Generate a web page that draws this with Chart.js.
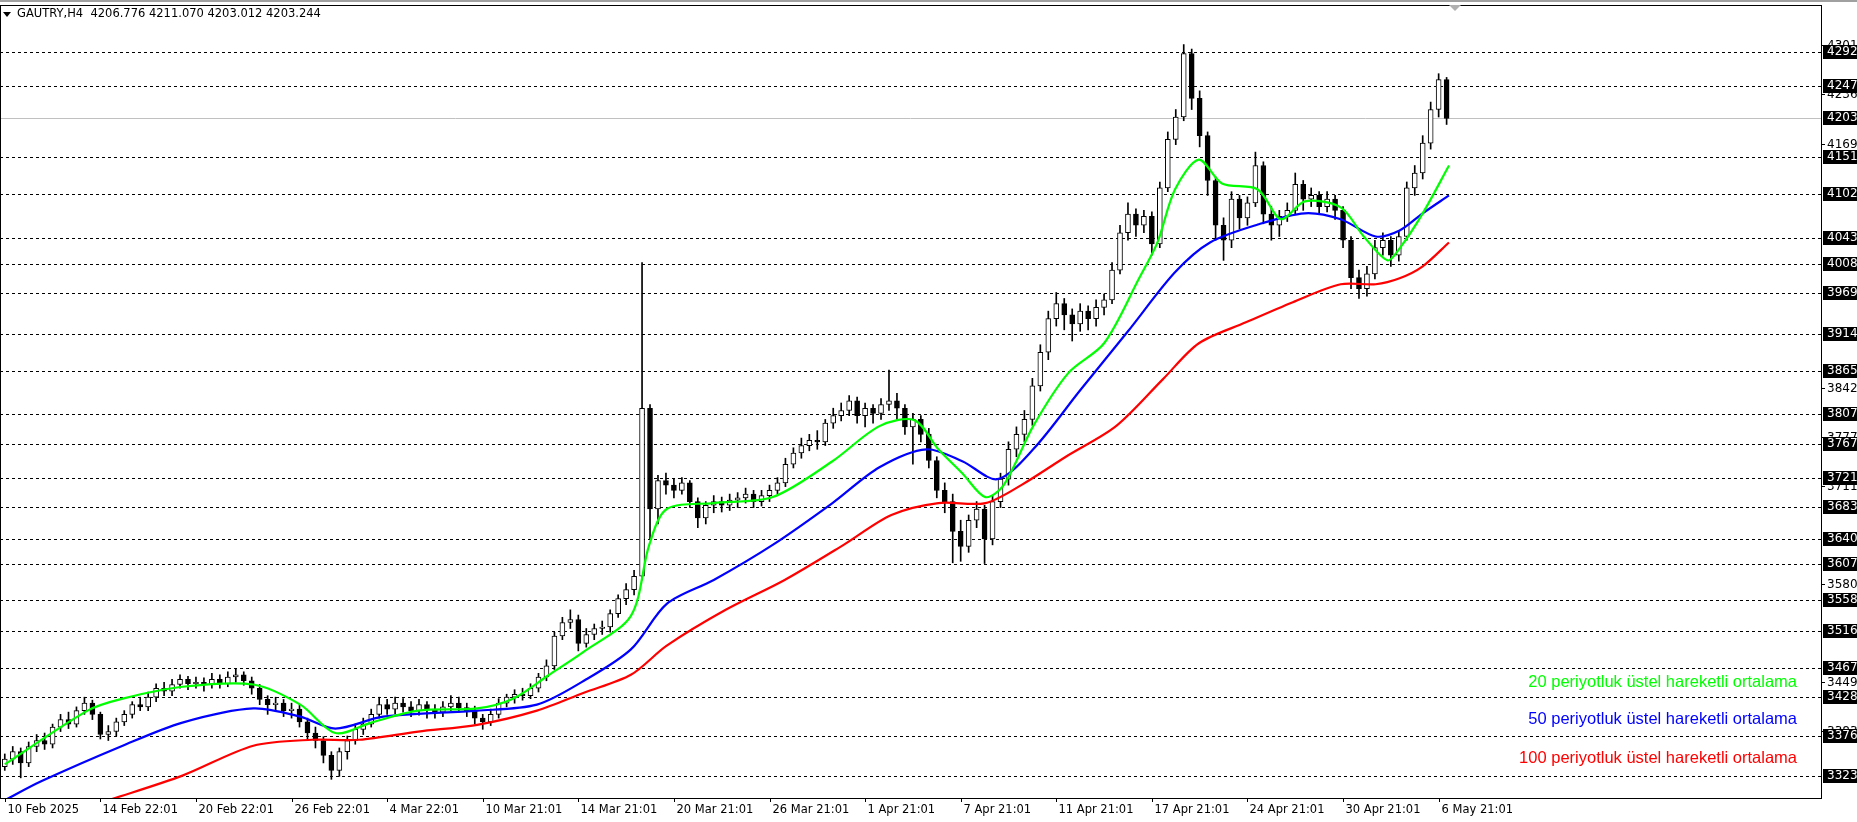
<!DOCTYPE html>
<html>
<head>
<meta charset="utf-8">
<script src="https://cdn.jsdelivr.net/npm/chart.js@4.4.1/dist/chart.umd.min.js"></script>
<style>
  html, body { margin: 0; padding: 0; background: #fff; }
  #wrap { width: 1857px; height: 822px; position: relative; }
</style>
</head>
<body>
<div id="wrap"><canvas id="c"></canvas></div>
<script>
// Candles: each one covers two H4 bars; open = previous close
const firstOpen = 3335;
const closes = [3345,3355,3340,3362,3370,3365,3388,3398,3392,3410,3420,3405,3378,3382,3395,3405,3418,3415,3428,3440,
  3436,3445,3452,3446,3448,3445,3452,3446,3455,3458,3450,3440,3425,3418,3420,3410,3412,3395,3380,3370,
  3350,3330,3355,3370,3385,3392,3405,3418,3412,3420,3415,3410,3418,3412,3408,3415,3420,3414,3410,3400,
  3395,3405,3420,3428,3432,3430,3440,3455,3470,3510,3528,3532,3500,3512,3520,3522,3540,3560,3572,3590,
  3815,3680,3718,3712,3705,3715,3690,3668,3685,3690,3685,3692,3695,3700,3690,3698,3705,3715,3740,3755,
  3765,3772,3770,3795,3805,3812,3825,3805,3815,3808,3820,3825,3815,3790,3800,3780,3745,3705,3690,3650,
  3630,3665,3680,3640,3690,3720,3760,3780,3800,3845,3890,3935,3955,3940,3928,3945,3935,3950,3960,4000,
  4050,4075,4060,4072,4035,4110,4175,4205,4290,4230,4180,4120,4060,4040,4095,4070,4090,4140,4075,4060,
  4072,4080,4115,4095,4100,4085,4095,4080,4040,3990,3975,3995,4030,4040,4020,4045,4110,4130,4170,4215,
  4255,4203];
const highs = [3352,3362,3360,3368,3378,3380,3392,3405,3408,3415,3428,3424,3408,3390,3400,3410,3422,3428,3435,3446,
  3448,3452,3458,3456,3455,3454,3460,3458,3462,3466,3462,3455,3445,3430,3428,3425,3420,3418,3400,3388,
  3375,3355,3360,3376,3392,3400,3412,3428,3425,3428,3426,3422,3425,3422,3418,3422,3430,3428,3420,3416,
  3405,3412,3426,3432,3438,3440,3446,3460,3478,3515,3535,3545,3538,3520,3526,3530,3545,3565,3580,3598,
  4010,3820,3725,3728,3720,3722,3718,3695,3690,3698,3696,3700,3702,3708,3705,3705,3712,3722,3748,3762,
  3775,3780,3785,3800,3815,3822,3832,3830,3822,3820,3828,3866,3835,3820,3808,3805,3788,3750,3715,3700,
  3665,3672,3690,3685,3698,3728,3770,3790,3812,3855,3900,3945,3970,3962,3948,3955,3952,3960,3968,4010,
  4060,4090,4082,4080,4078,4118,4185,4215,4302,4296,4240,4185,4125,4070,4105,4100,4098,4158,4145,4085,
  4080,4090,4130,4120,4110,4105,4105,4100,4085,4045,4000,4005,4040,4050,4045,4052,4118,4140,4180,4225,
  4263,4258];
const lows = [3330,3338,3320,3335,3355,3358,3360,3382,3386,3388,3405,3398,3372,3370,3376,3390,3400,3410,3410,3422,
  3430,3430,3440,3438,3440,3436,3440,3440,3442,3448,3444,3432,3418,3405,3410,3402,3400,3388,3372,3360,
  3340,3318,3322,3345,3365,3378,3388,3400,3405,3406,3408,3402,3404,3400,3400,3402,3410,3408,3402,3392,
  3385,3390,3400,3415,3420,3424,3426,3435,3450,3465,3505,3520,3490,3495,3505,3512,3515,3535,3552,3565,
  3585,3640,3660,3700,3695,3700,3682,3655,3660,3675,3676,3678,3682,3688,3682,3684,3690,3700,3710,3735,
  3748,3758,3760,3765,3788,3798,3805,3795,3790,3795,3800,3812,3800,3780,3740,3770,3735,3695,3675,3608,
  3610,3622,3655,3607,3632,3682,3712,3750,3770,3792,3838,3880,3925,3920,3905,3918,3920,3925,3940,3955,
  3995,4040,4045,4050,4020,4030,4105,4168,4200,4215,4165,4100,4040,4013,4030,4055,4060,4085,4062,4040,
  4045,4065,4075,4080,4085,4075,4078,4068,4030,3975,3962,3965,3988,4020,4005,4012,4040,4100,4122,4162,
  4205,4195];

// moving averages, [candle index, value]
const ema20 = [[0,3338],[10.4,3410],[14.8,3426],[22.3,3442],[31.2,3445],[37.1,3418],[41.5,3380],[46,3394],[51.9,3410],
  [59.3,3413],[63.8,3426],[68.2,3457],[72.7,3489],[78.6,3537],[80.9,3632],[83.1,3680],[89,3688],[96.4,3696],
  [103.9,3744],[109.8,3791],[114.2,3799],[117.2,3760],[120.2,3728],[123.1,3696],[125.4,3712],[129.1,3791],
  [133.5,3862],[138,3902],[142.4,3989],[144.7,4037],[146.9,4108],[149.9,4148],[152.8,4116],[157.3,4108],
  [160.2,4068],[163.2,4092],[167.7,4084],[170.6,4045],[173.6,4013],[175.1,4029],[178,4076],[181.3,4140]];
const ema50 = [[0,3290],[4.5,3315],[14.8,3363],[22.3,3394],[31.2,3413],[37.1,3402],[41.5,3386],[47.5,3402],[59.3,3410],
  [66.8,3418],[72.7,3450],[78.6,3492],[83.1,3553],[89,3585],[96.4,3632],[103.9,3688],[109.8,3736],[115.7,3760],
  [120.2,3744],[124.6,3720],[129.1,3760],[135,3839],[141,3918],[146.9,3997],[151.3,4037],[157.3,4061],
  [163.2,4076],[167.7,4068],[172.1,4045],[175.1,4053],[178,4076],[181.3,4100]];
const ema100 = [[13,3290],[22.3,3323],[31.2,3363],[38.6,3371],[44.5,3371],[51.9,3382],[59.3,3391],[66.8,3410],
  [72.7,3434],[78.6,3458],[83.1,3497],[90.5,3545],[97.9,3585],[105.3,3632],[111.3,3672],[117.2,3688],
  [123.1,3688],[127.6,3712],[133.5,3752],[139.5,3791],[145.4,3854],[149.9,3902],[155.8,3930],[161.7,3957],
  [167.7,3981],[172.1,3981],[175.1,3989],[178,4005],[181.3,4037]];

const levelLines = [4292,4247,4151,4102,4043,4008,3969,3914,3865,3807,3767,3721,3683,3640,3607,3558,3516,3467,3428,3376,3323];
const levelText = ['4292.','4247.','4151.','4102.','4043.','4008.','3969.','3914.','3865.','3807.','3767.','3721.','3683.',
  '3640.','3607.','3558.','3516.','3467.','3428.','3376.','3323.'];
const axisTicks = [4301,4236,4169,3842,3777,3711,3580,3449,3383];
const bidPrice = 4203;
const dateLabels = ['10 Feb 2025','14 Feb 22:01','20 Feb 22:01','26 Feb 22:01','4 Mar 22:01','10 Mar 21:01','14 Mar 21:01',
  '20 Mar 21:01','26 Mar 21:01','1 Apr 21:01','7 Apr 21:01','11 Apr 21:01','17 Apr 21:01','24 Apr 21:01','30 Apr 21:01','6 May 21:01'];
const dateStep = 12;
const maNames = ['20 periyotluk üstel hareketli ortalama','50 periyotluk üstel hareketli ortalama','100 periyotluk üstel hareketli ortalama'];

const opens = closes.map((c, i) => i === 0 ? firstOpen : closes[i - 1]);
const wickData = closes.map((c, i) => ({ x: i, y: [lows[i], highs[i]] }));
const bodyData = closes.map((c, i) => {
  let a = opens[i], b = c;
  if (Math.abs(a - b) < 1.5) b = a + 1.5;
  return { x: i, y: [Math.min(a, b), Math.max(a, b)] };
});
const bodyFill = closes.map((c, i) => c >= opens[i] ? '#ffffff' : '#000000');
const toXY = arr => arr.map(p => ({ x: p[0], y: p[1] }));

const FONT = '"DejaVu Sans", Tahoma, sans-serif';

const decor = {
  id: 'decor',
  beforeDatasetsDraw(chart) {
    const { ctx, chartArea: a, scales: { x, y } } = chart;
    ctx.save();
    ctx.strokeStyle = '#000';
    ctx.lineWidth = 1;
    ctx.setLineDash([3, 3]);
    levelLines.forEach(v => {
      const py = Math.round(y.getPixelForValue(v)) + 0.5;
      ctx.beginPath(); ctx.moveTo(a.left, py); ctx.lineTo(a.right, py); ctx.stroke();
    });
    ctx.setLineDash([]);
    ctx.strokeStyle = '#c0c0c0';
    const by = Math.round(y.getPixelForValue(bidPrice)) + 0.5;
    ctx.beginPath(); ctx.moveTo(a.left, by); ctx.lineTo(a.right, by); ctx.stroke();
    ctx.restore();
  },
  afterDraw(chart) {
    const { ctx, chartArea: a, scales: { x, y } } = chart;
    ctx.save();
    // frame
    ctx.strokeStyle = '#000';
    ctx.lineWidth = 1;
    ctx.strokeRect(a.left + 0.5, a.top + 0.5, a.right - a.left, a.bottom - a.top);
    ctx.fillStyle = '#a0a0a0';
    ctx.fillRect(0, 0, 1857, 2);
    // plain axis ticks
    ctx.font = '12px ' + FONT;
    ctx.textBaseline = 'middle';
    ctx.fillStyle = '#000';
    axisTicks.forEach(v => {
      const py = Math.round(y.getPixelForValue(v)) + 0.5;
      ctx.beginPath(); ctx.moveTo(a.right, py); ctx.lineTo(a.right + 4, py); ctx.stroke();
      ctx.fillText(v + '.0', a.right + 6, py);
    });
    // level boxes
    const boxes = levelLines.map((v, i) => [v, levelText[i]]).concat([[bidPrice, '4203.']]);
    boxes.forEach(([v, t]) => {
      const py = Math.round(y.getPixelForValue(v));
      ctx.fillStyle = '#000';
      ctx.fillRect(a.right + 2, py - 7, 40, 14);
      ctx.fillStyle = '#fff';
      ctx.fillText(t + '00', a.right + 6, py);
    });
    // date labels
    ctx.font = '11.5px ' + FONT;
    ctx.fillStyle = '#000';
    ctx.textBaseline = 'top';
    dateLabels.forEach((t, i) => {
      const px = Math.round(x.getPixelForValue(i * dateStep)) + 0.5;
      ctx.beginPath(); ctx.moveTo(px, a.bottom); ctx.lineTo(px, a.bottom + 4); ctx.stroke();
      ctx.fillText(t, px + 2, a.bottom + 6);
    });
    // title
    ctx.font = '11.5px ' + FONT;
    ctx.textBaseline = 'middle';
    ctx.beginPath(); ctx.moveTo(3, 12); ctx.lineTo(11, 12); ctx.lineTo(7, 17); ctx.closePath(); ctx.fill();
    ctx.fillText('GAUTRY,H4  4206.776 4211.070 4203.012 4203.244', 17, 14);
    // shift marker
    ctx.fillStyle = '#b0b0b0';
    ctx.beginPath(); ctx.moveTo(1449, 5); ctx.lineTo(1461, 5); ctx.lineTo(1455, 11); ctx.closePath(); ctx.fill();
    // MA captions
    ctx.font = '16.5px "Liberation Sans", Arial, sans-serif';
    ctx.textAlign = 'right';
    const capCol = ['#00ff00', '#0000ff', '#ff0000'];
    const capY = [682, 719, 758];
    maNames.forEach((t, i) => { ctx.fillStyle = capCol[i]; ctx.fillText(t, 1797, capY[i]); });
    ctx.restore();
  }
};

new Chart(document.getElementById('c'), {
  type: 'bar',
  data: {
    datasets: [
      { type: 'line', data: toXY(ema100), borderColor: '#ff0000', borderWidth: 2.2, pointRadius: 0, tension: 0.3, order: 3 },
      { type: 'line', data: toXY(ema50), borderColor: '#0000ff', borderWidth: 2.2, pointRadius: 0, tension: 0.3, order: 2 },
      { type: 'line', data: toXY(ema20), borderColor: '#00ff00', borderWidth: 2.2, pointRadius: 0, tension: 0.3, order: 1 },
      { data: wickData, backgroundColor: '#000', barThickness: 1, grouped: false, order: 5 },
      { data: bodyData, backgroundColor: bodyFill, borderColor: '#000', borderWidth: 1, borderSkipped: false,
        barThickness: 5, grouped: false, order: 4 }
    ]
  },
  options: {
    responsive: true,
    maintainAspectRatio: false,
    animation: false,
    events: [],
    layout: { padding: { left: 0, right: 36, top: 5, bottom: 24 } },
    plugins: { legend: { display: false }, tooltip: { enabled: false } },
    scales: {
      x: { type: 'linear', min: -0.6, max: 228, offset: false, display: false },
      y: { min: 3293, max: 4355, display: false }
    }
  },
  plugins: [decor]
});
</script>
</body>
</html>
